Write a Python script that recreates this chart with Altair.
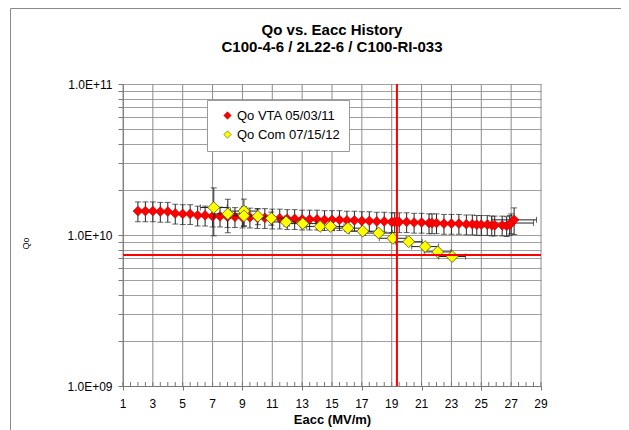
import altair as alt
import pandas as pd

# ---------------- data ----------------
title_lines = ["Qo vs. Eacc History", "C100-4-6 / 2L22-6 / C100-RI-033"]
red_label = "Qo VTA 05/03/11"
yel_label = "Qo Com 07/15/12"

red_x = [2.0, 2.5, 3.0, 3.5, 4.0, 4.5, 5.0, 5.5, 6.0, 6.5, 7.0, 7.5, 8.0, 8.5, 9.0, 9.5,
         10.0, 10.5, 11.0, 11.5, 12.0, 12.5, 13.0, 13.5, 14.0, 14.5, 15.0, 15.5, 16.0, 16.5,
         17.0, 17.5, 18.0, 18.5, 19.0, 19.2, 19.5, 20.0, 20.5, 21.0, 21.5, 21.7, 22.0, 22.5,
         23.0, 23.5, 24.0, 24.4, 24.7, 25.0, 25.4, 25.7, 25.9, 26.4, 26.7, 26.9, 27.0, 27.2]
red_q = [1.44e10, 1.44e10, 1.44e10, 1.43e10, 1.43e10, 1.39e10, 1.38e10, 1.38e10, 1.35e10, 1.35e10,
         1.33e10, 1.33e10, 1.32e10, 1.32e10, 1.31e10, 1.31e10, 1.30e10, 1.30e10, 1.29e10, 1.29e10,
         1.28e10, 1.28e10, 1.27e10, 1.27e10, 1.27e10, 1.26e10, 1.26e10, 1.26e10, 1.25e10, 1.25e10,
         1.24e10, 1.24e10, 1.23e10, 1.23e10, 1.22e10, 1.22e10, 1.22e10, 1.22e10, 1.21e10, 1.21e10,
         1.20e10, 1.20e10, 1.20e10, 1.19e10, 1.19e10, 1.19e10, 1.18e10, 1.18e10, 1.17e10, 1.17e10,
         1.17e10, 1.16e10, 1.16e10, 1.16e10, 1.15e10, 1.17e10, 1.20e10, 1.26e10]
red_yerr_pct = [0.15] * 57 + [0.20]
red_xerr = [0.0] * 56 + [1.5, 1.5]

yel_x = [7.08, 8.02, 9.1, 9.1, 10.03, 10.93, 11.93, 13.04, 14.2, 14.9, 16.06, 17.06, 18.13,
         19.07, 20.14, 21.24, 22.08, 23.05]
yel_q = [1.52e10, 1.38e10, 1.44e10, 1.34e10, 1.33e10, 1.29e10, 1.22e10, 1.19e10, 1.14e10, 1.14e10,
         1.11e10, 1.06e10, 1.03e10, 9.51e9, 9.03e9, 8.38e9, 7.73e9, 7.2e9]
yel_yerr_pct = [0.35, 0.25, 0.20, 0.15, 0.12, 0.10, 0.06, 0.06, 0.05, 0.05, 0.05, 0.04, 0.04,
                0.04, 0.04, 0.04, 0.04, 0.04]
yel_xerr = [0.9] * 18

limit_q = 7.37e9
limit_eacc = 19.35

x_labels = [1, 3, 5, 7, 9, 11, 13, 15, 17, 19, 21, 23, 25, 27, 29]
x_minor = [1 + 0.5 * i for i in range(57)]
y_decades = [1e9, 1e10, 1e11]
y_decade_labels = ["1.0E+09", "1.0E+10", "1.0E+11"]
y_grid = [m * 1e9 for m in range(1, 10)] + [m * 1e10 for m in range(1, 11)]

# ---------------- tables ----------------
rows = []
for x, q, p, xe in zip(red_x, red_q, red_yerr_pct, red_xerr):
    rows.append(dict(series=red_label, x=x, q=q, lo=q * (1 - p), hi=q * (1 + p), xlo=x - xe, xhi=x + xe, xe=xe))
for x, q, p, xe in zip(yel_x, yel_q, yel_yerr_pct, yel_xerr):
    rows.append(dict(series=yel_label, x=x, q=q, lo=q * (1 - p), hi=q * (1 + p), xlo=x - xe, xhi=x + xe, xe=xe))
df = pd.DataFrame(rows)
red_df = df[df.series == red_label]
yel_df = df[df.series == yel_label]
grid_df = pd.DataFrame({"x": x_labels, "q": [1e10] * len(x_labels), "lab": [str(v) for v in x_labels]})
minor_df = pd.DataFrame({"x": x_minor})

W, H = 418, 302
PL, PT, PR, PB = 115, 76, 80, 44

label_expr = " : ".join(
    f"datum.value == {v:g} ? '{t}'" for v, t in zip(y_decades, y_decade_labels)
) + " : ''"

xscale = alt.Scale(domain=[1, 29], nice=False, zero=False)
yscale = alt.Scale(type="log", domain=[1e9, 1e11], nice=False)

x_axis = alt.Axis(values=x_labels, grid=False, tickSize=4, labels=False,
                  title="Eacc (MV/m)", titleFontSize=13, titleFontWeight="bold",
                  titleY=37, titleBaseline="alphabetic")
y_axis = alt.Axis(values=y_grid, grid=True, tickSize=5, labelExpr=label_expr,
                  labelOverlap=False, labelFlush=False,
                  labelPadding=6, title="Qo", titleFontSize=9, titleFontWeight="normal",
                  titleX=-98, titleY=H / 2 + 8, titleAngle=-90, titleAlign="center",
                  titleBaseline="middle")

# first layer carries the axes
vgrid = alt.Chart(grid_df).mark_rule(color="#8c8c8c", strokeWidth=1).encode(
    x=alt.X("x:Q", scale=xscale, axis=x_axis),
    y=alt.value(0), y2=alt.value(H))
yaxis_holder = alt.Chart(grid_df).mark_point(opacity=0).encode(
    x=alt.X("x:Q", scale=xscale),
    y=alt.Y("q:Q", scale=yscale, axis=y_axis))
x_tick_labels = alt.Chart(grid_df).mark_text(fontSize=12, color="black", baseline="middle", align="center").encode(
    x=alt.X("x:Q", scale=xscale), y=alt.value(H + 18), text="lab:N")
minor_ticks = alt.Chart(minor_df).mark_rule(color="#777777", strokeWidth=1).encode(
    x=alt.X("x:Q", scale=xscale), y=alt.value(H - 4), y2=alt.value(H))

def vbars(d, color):
    b = alt.Chart(d)
    r = b.mark_rule(color=color, strokeWidth=1).encode(x=alt.X("x:Q", scale=xscale), y=alt.Y("lo:Q", scale=yscale), y2="hi:Q")
    t1 = b.mark_tick(color=color, orient="horizontal", size=6, thickness=1).encode(x=alt.X("x:Q", scale=xscale), y=alt.Y("lo:Q", scale=yscale))
    t2 = b.mark_tick(color=color, orient="horizontal", size=6, thickness=1).encode(x=alt.X("x:Q", scale=xscale), y=alt.Y("hi:Q", scale=yscale))
    return r + t1 + t2

def hbars(d, color):
    d = d[d.xe > 0]
    b = alt.Chart(d)
    r = b.mark_rule(color=color, strokeWidth=1).encode(x=alt.X("xlo:Q", scale=xscale), x2="xhi:Q", y=alt.Y("q:Q", scale=yscale))
    t1 = b.mark_tick(color=color, orient="vertical", size=6, thickness=1).encode(x=alt.X("xlo:Q", scale=xscale), y=alt.Y("q:Q", scale=yscale))
    t2 = b.mark_tick(color=color, orient="vertical", size=6, thickness=1).encode(x=alt.X("xhi:Q", scale=xscale), y=alt.Y("q:Q", scale=yscale))
    return r + t1 + t2

legend = alt.Legend(title=None, orient="none", legendX=84, legendY=16, symbolType="diamond",
                    symbolSize=55, labelFontSize=13, labelColor="black", padding=9, rowPadding=5,
                    symbolOffset=5, labelOffset=3,
                    strokeColor="#9a9a9a", fillColor="white", symbolStrokeWidth=0.6)
series_dom = [red_label, yel_label]
fill_enc = alt.Fill("series:N", scale=alt.Scale(domain=series_dom, range=["#ff0000", "#ffff00"]), legend=legend)
stroke_enc = alt.Stroke("series:N", scale=alt.Scale(domain=series_dom, range=["#b00000", "#555500"]), legend=legend)

red_pts = alt.Chart(red_df).mark_point(shape="diamond", filled=True, size=95, strokeWidth=0.6, opacity=1).encode(
    x=alt.X("x:Q", scale=xscale), y=alt.Y("q:Q", scale=yscale), fill=fill_enc, stroke=stroke_enc)
yel_pts = alt.Chart(yel_df).mark_point(shape="diamond", filled=True, size=140, strokeWidth=0.8, opacity=1).encode(
    x=alt.X("x:Q", scale=xscale), y=alt.Y("q:Q", scale=yscale), fill=fill_enc, stroke=stroke_enc)

hline = alt.Chart(pd.DataFrame({"q": [limit_q]})).mark_rule(color="#ff0000", strokeWidth=2).encode(
    y=alt.Y("q:Q", scale=yscale))
vline = alt.Chart(pd.DataFrame({"x": [limit_eacc]})).mark_rule(color="#ff0000", strokeWidth=2).encode(
    x=alt.X("x:Q", scale=xscale))

one = pd.DataFrame({"a": [0]})
frame_left = alt.Chart(one).mark_rule(color="#8a8a8a", strokeWidth=1).encode(
    x=alt.value(-112.5), y=alt.value(-75.5), y2=alt.value(H + PB + 10))
frame_top = alt.Chart(one).mark_rule(color="#8a8a8a", strokeWidth=1).encode(
    x=alt.value(-112.5), x2=alt.value(W + PR + 10), y=alt.value(-75.5))

title1 = alt.Chart(pd.DataFrame({"t": [title_lines[0]]})).mark_text(
    fontSize=15, fontWeight="bold", color="black", align="center", baseline="middle").encode(
    text="t:N", x=alt.value(W / 2), y=alt.value(-54))
title2 = alt.Chart(pd.DataFrame({"t": [title_lines[1]]})).mark_text(
    fontSize=15, fontWeight="bold", color="black", align="center", baseline="middle").encode(
    text="t:N", x=alt.value(W / 2), y=alt.value(-37))

chart = alt.layer(
    vgrid, yaxis_holder, minor_ticks, x_tick_labels,
    vbars(red_df, "#222222"), hbars(red_df, "#222222"),
    red_pts,
    vbars(yel_df, "#222222"), hbars(yel_df, "#222222"),
    yel_pts,
    hline, vline,
    frame_left, frame_top, title1, title2,
).properties(
    width=W, height=H,
    autosize=alt.AutoSizeParams(type="none"),
    padding={"left": PL, "top": PT, "right": PR, "bottom": PB},
).configure(font="Liberation Sans").configure_view(stroke=None).configure_axis(
    domainColor="#777777", tickColor="#777777", gridColor="#a0a0a0", gridWidth=1,
    labelFontSize=12, labelColor="black", titleColor="black",
)

chart.save("out.html", embed_options={"renderer": "svg", "actions": False})
